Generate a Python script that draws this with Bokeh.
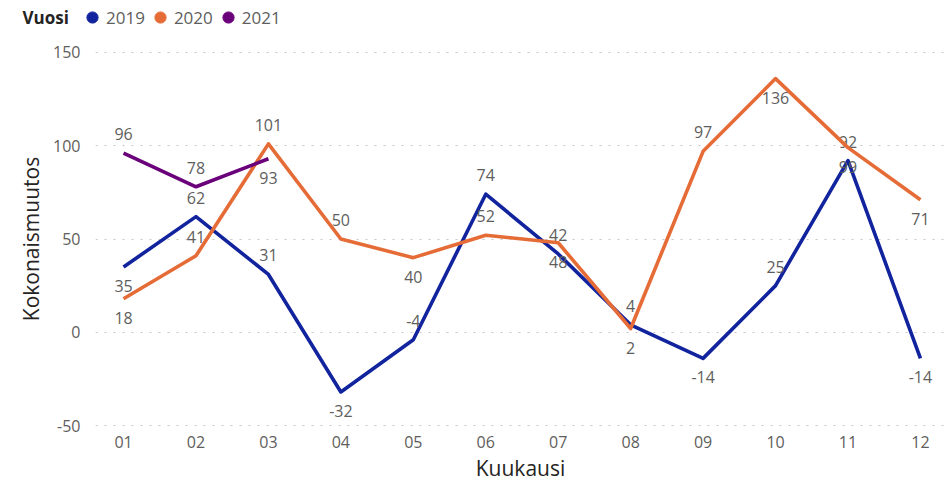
from bokeh.plotting import figure
from bokeh.models import (ColumnDataSource, Range1d, FixedTicker, Legend, LegendItem,
                          LinearAxis, Label)
from bokeh.core.properties import value
from bokeh.embed import file_html
from bokeh.resources import INLINE

# ---- data ----
months = ["01", "02", "03", "04", "05", "06", "07", "08", "09", "10", "11", "12"]
y2019 = [35, 62, 31, -32, -4, 74, 42, 4, -14, 25, 92, -14]
y2020 = [18, 41, 101, 50, 40, 52, 48, 2, 97, 136, 99, 71]
y2021 = [96, 78, 93]
series_names = ["2019", "2020", "2021"]
y_ticks = [-50, 0, 50, 100, 150]
# data label side (a = above, b = below)
side2019 = ["b", "a", "a", "b", "a", "a", "a", "a", "b", "a", "a", "b"]
side2020 = ["b", "a", "a", "a", "b", "a", "b", "b", "a", "b", "b", "b"]
side2021 = ["a", "a", "b"]

colors = ["#12239E", "#E66C37", "#6B007B"]
FONT = "Open Sans"
TXT = "#605E5C"
DARK = "#252423"

# ---- legend strip (separate root so that its frame spans the full width) ----
lg = figure(width=945, height=34, output_backend="svg", toolbar_location=None,
            x_range=Range1d(0, 1), y_range=Range1d(0, 1),
            min_border_left=0, min_border_right=0, min_border_top=0, min_border_bottom=0,
            x_axis_location=None, y_axis_location=None)
lg.outline_line_color = None
lg.grid.visible = False

# ---- main chart ----
p = figure(width=945, height=450, output_backend="svg", toolbar_location=None,
           x_range=Range1d(0.613, 12.346), y_range=Range1d(-51.06, 151.06),
           min_border_left=95, min_border_right=0, min_border_top=16,
           min_border_bottom=54, x_axis_location=None, y_axis_location=None)
p.outline_line_color = None
p.background_fill_color = "white"

xaxis = LinearAxis(ticker=FixedTicker(ticks=list(range(1, len(months) + 1))),
                   major_label_overrides={i + 1: m for i, m in enumerate(months)},
                   axis_label="Kuukausi")
yaxis = LinearAxis(ticker=FixedTicker(ticks=y_ticks),
                   major_label_overrides={t: str(t) for t in y_ticks},
                   axis_label="Kokonaismuutos")
for ax in (xaxis, yaxis):
    ax.axis_line_color = None
    ax.major_tick_line_color = None
    ax.minor_tick_line_color = None
    ax.major_label_text_font = FONT
    ax.major_label_text_font_size = "16px"
    ax.major_label_text_color = TXT
    ax.axis_label_text_font = FONT
    ax.axis_label_text_font_size = "21px"
    ax.axis_label_text_font_style = "normal"
    ax.axis_label_text_color = DARK
xaxis.major_label_standoff = 2
xaxis.axis_label_standoff = 3
yaxis.major_label_standoff = 9
yaxis.axis_label_standoff = 5
p.add_layout(xaxis, "below")
p.add_layout(yaxis, "left")

p.xgrid.visible = False
p.ygrid.ticker = FixedTicker(ticks=y_ticks)
p.ygrid.grid_line_color = "#C8C6C4"
p.ygrid.grid_line_dash = "2 7"
p.ygrid.grid_line_width = 1.2

legend_items = []
for name, vals, side, col in zip(series_names, [y2019, y2020, y2021],
                                 [side2019, side2020, side2021], colors):
    xs = list(range(1, len(vals) + 1))
    src = ColumnDataSource(dict(x=xs, y=vals, lab=[str(v) for v in vals],
                                off=[-19 if s == "a" else 19 for s in side]))
    p.line("x", "y", source=src, line_color=col, line_width=3.6, line_join="round")
    p.text("x", "y", text="lab", source=src, y_offset="off", text_align="center",
           text_baseline="middle", text_font=value(FONT), text_font_size="16px",
           text_color=TXT)
    # legend proxy: same series, lies outside the strip's visible range
    proxy = lg.scatter(x=xs[:1], y=vals[:1], marker="circle", size=12,
                       fill_color=col, line_color=col)
    legend_items.append(LegendItem(label=name, renderers=[proxy]))

legend = Legend(items=legend_items, orientation="horizontal", location=(78, 2),
                glyph_width=28, glyph_height=30, label_standoff=0, spacing=1,
                padding=0, margin=0, border_line_color=None, background_fill_alpha=0,
                label_text_font=FONT, label_text_font_size="17px", label_text_color=TXT,
                label_height=20)
lg.add_layout(legend, "center")
lg.add_layout(Label(x=22, y=17, x_units="screen", y_units="screen", text="Vuosi",
                    text_font=FONT, text_font_size="17px", text_font_style="bold",
                    text_color=DARK, text_baseline="middle", text_align="left"))

open("out.html", "w").write(file_html([lg, p], INLINE))
